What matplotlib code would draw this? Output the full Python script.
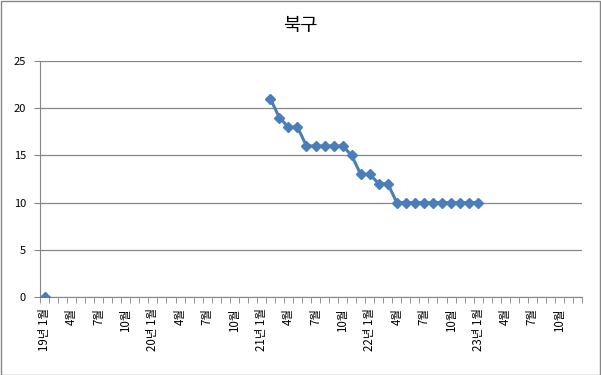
import numpy as np
import matplotlib
matplotlib.use("Agg")
import matplotlib.pyplot as plt

plt.rcParams['font.family'] = ['Noto Sans CJK KR', 'DejaVu Sans']

years = [19, 20, 21, 22, 23]
months = list(range(1, 13))
# month index (0 = 19년 1월) -> value
point_index = [0] + list(range(25, 49))
point_values = [0, 21, 19, 18, 18, 16, 16, 16, 16, 16, 15, 13, 13, 12, 12,
                10, 10, 10, 10, 10, 10, 10, 10, 10, 10]
title = "북구"

n = len(years) * len(months)
vals = np.full(n, np.nan)
for i, v in zip(point_index, point_values):
    vals[i] = v

labels = []
for y in years:
    for m in months:
        labels.append(f"{y}년 {m}월" if m == 1 else f"{m}월")

fig = plt.figure(figsize=(6.01, 3.75), dpi=100)
ax = fig.add_axes([40/601, 78/375, 542/601, 236/375])

blue = '#4A7EBB'
x = np.arange(n)
ax.plot(x, vals, color=blue, lw=2.2, marker='D', ms=5.5, mec=blue, mfc=blue, zorder=3)

ax.set_xlim(-0.5, n - 0.5)
ax.set_ylim(0, 25)
ax.set_yticks(range(0, 26, 5))
ax.yaxis.grid(True, color='#868686', lw=0.9)
ax.set_axisbelow(True)

lab_pos = list(range(0, n, 3))
ax.set_xticks(lab_pos)
ax.set_xticklabels([labels[i] for i in lab_pos], rotation=90, fontsize=8.3)
ax.set_xticks(np.arange(-0.5, n, 1), minor=True)
ax.tick_params(axis='x', which='major', length=0, pad=8)
ax.tick_params(axis='x', which='minor', length=4, color='#868686', direction='out')
ax.tick_params(axis='y', length=4, color='#868686', labelsize=8, pad=6)

for s in ['top', 'right']:
    ax.spines[s].set_visible(False)
for s in ['left', 'bottom']:
    ax.spines[s].set_color('#868686')

fig.text(0.5, 1 - 25/375, title, ha='center', va='center', fontsize=13.5)

border = plt.Rectangle((0.5/601, 0.5/375), 1 - 1.5/601, 1 - 1.5/375, transform=fig.transFigure,
                       fill=False, ec='#868686', lw=1)
fig.patches.append(border)

fig.savefig('out.png', dpi=100)
